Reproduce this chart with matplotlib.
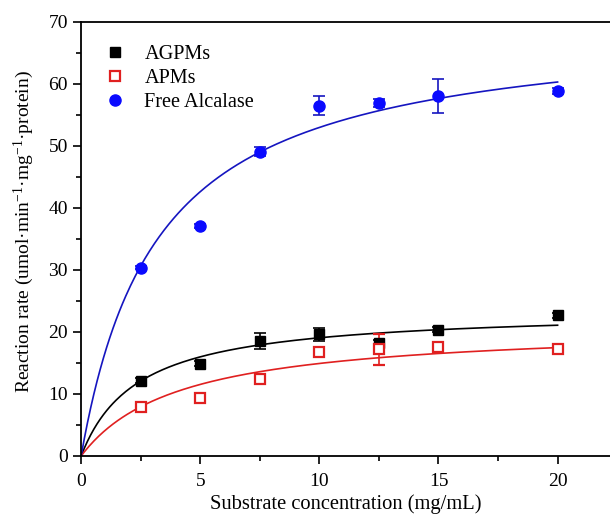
import numpy as np
import matplotlib
matplotlib.use('Agg')
import matplotlib.pyplot as plt
from matplotlib.ticker import MultipleLocator

plt.rcParams['font.family'] = ['Liberation Serif', 'DejaVu Serif']
plt.rcParams['mathtext.fontset'] = 'custom'
plt.rcParams['mathtext.rm'] = 'Liberation Serif'
plt.rcParams['mathtext.it'] = 'Liberation Serif:italic'

# Substrate concentrations (mg/mL)
conc = [2.5, 5, 7.5, 10, 12.5, 15, 20]

# Measured rates and error bars
agpms = [12.1, 14.9, 18.6, 19.6, 18.3, 20.4, 22.7]
agpms_err = [0.4, 0.4, 1.3, 1.1, 0.4, 0.4, 0.4]
apms = [7.9, 9.3, 12.4, 16.7, 17.2, 17.5, 17.3]
apms_err = [0.3, 0.3, 0.3, 0.3, 2.5, 0.3, 0.6]
free = [30.4, 37.1, 49.1, 56.5, 56.9, 58.1, 58.9]
free_err = [0.3, 0.3, 0.7, 1.5, 0.6, 2.7, 0.5]

# Michaelis-Menten fit parameters (Vmax, Km)
fit_agpms = (23.6, 2.38)
fit_apms = (21.1, 4.14)
fit_free = (70.0, 3.21)

labels = ['AGPMs', 'APMs', 'Free Alcalase']


def mm_curve(s, vmax, km):
    return vmax * s / (km + s)


fig = plt.figure(figsize=(6.1, 5.15), dpi=100)
ax = fig.add_axes([0.133, 0.1146, 0.867, 0.8427])

s_fit = np.linspace(0, 20, 300)

# Fitted curves
ax.plot(s_fit, mm_curve(s_fit, *fit_agpms), color='black', lw=1.2, zorder=2)
ax.plot(s_fit, mm_curve(s_fit, *fit_apms), color='#e02020', lw=1.2, zorder=2)
ax.plot(s_fit, mm_curve(s_fit, *fit_free), color='#1515c0', lw=1.2, zorder=2)

# Data points with error bars
ax.errorbar(conc, agpms, yerr=agpms_err, fmt='s', color='black', ms=7,
            capsize=4, elinewidth=1.2, capthick=1.2, label=labels[0], zorder=3)
ax.errorbar(conc, apms, yerr=apms_err, fmt='s', color='#e02020', mfc='white',
            mec='#e02020', mew=1.6, ms=6.5, capsize=4, elinewidth=1.2,
            capthick=1.2, label=labels[1], zorder=3)
ax.errorbar(conc, free, yerr=free_err, fmt='o', color='#0a0aff', ecolor='#1515c0',
            ms=8, capsize=4, elinewidth=1.2, capthick=1.2, label=labels[2], zorder=3)

ax.set_xlim(0, 22.2)
ax.set_ylim(0, 70)
ax.xaxis.set_major_locator(MultipleLocator(5))
ax.xaxis.set_minor_locator(MultipleLocator(2.5))
ax.yaxis.set_major_locator(MultipleLocator(10))
ax.yaxis.set_minor_locator(MultipleLocator(5))
ax.tick_params(which='both', direction='out', labelsize=14, width=1.2)
ax.tick_params(which='major', length=6)
ax.tick_params(axis='x', which='major', pad=6)
ax.tick_params(which='minor', length=3.5)
for sp in ax.spines.values():
    sp.set_linewidth(1.3)
ax.spines['right'].set_visible(False)

ax.set_xlabel('Substrate concentration (mg/mL)', fontsize=14.8, labelpad=3)
ax.set_ylabel('Reaction rate (umol·min$^{-1}$·mg$^{-1}$·protein)', fontsize=14)
ax.yaxis.set_label_coords(-0.086, 0.516)

handles, lbls = ax.get_legend_handles_labels()
handles = [h[0] for h in handles]
ax.legend(handles, lbls, loc='upper left', bbox_to_anchor=(0.045, 0.948),
          frameon=False, fontsize=14.6, handletextpad=0.95, labelspacing=0.25,
          handlelength=1.0, borderpad=0, borderaxespad=0)

fig.savefig('out.png', dpi=100)
